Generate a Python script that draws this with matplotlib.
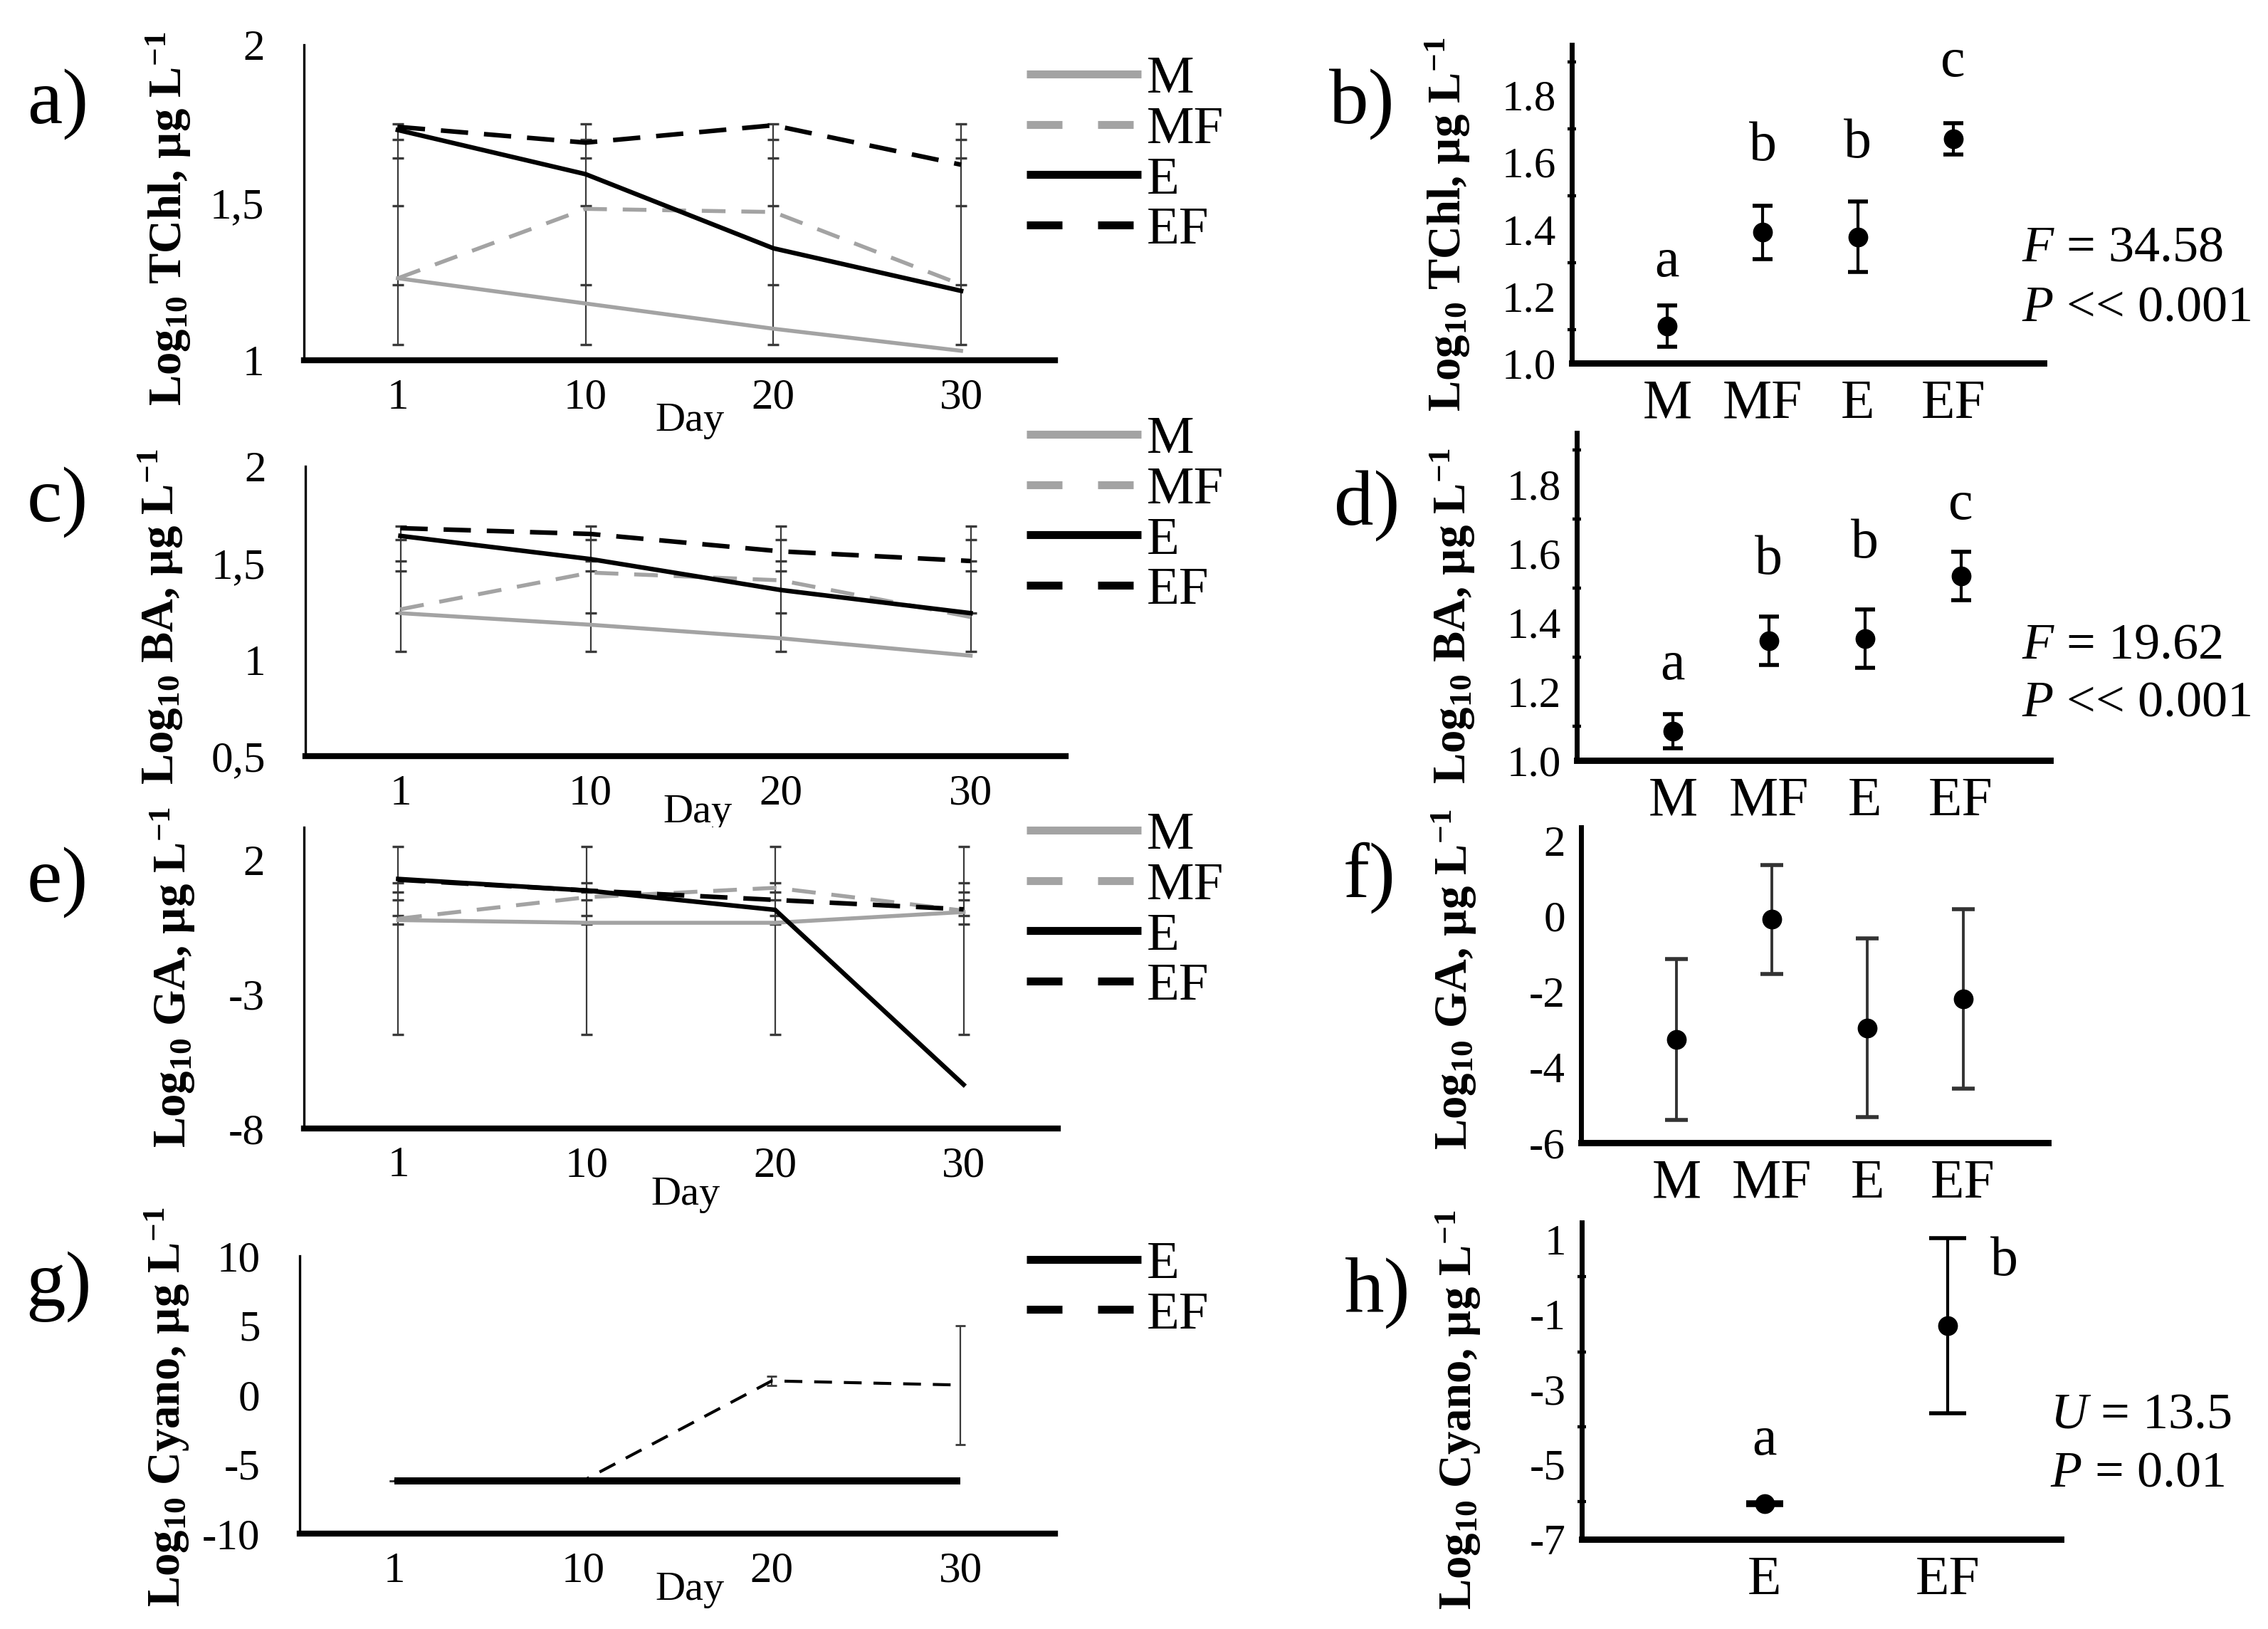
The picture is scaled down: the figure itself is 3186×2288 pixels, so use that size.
import matplotlib
matplotlib.use('Agg')
import matplotlib.pyplot as plt
from matplotlib.lines import Line2D
from matplotlib.ticker import MultipleLocator

plt.rcParams['font.family'] = 'Liberation Serif'
plt.rcParams['mathtext.fontset'] = 'custom'
plt.rcParams['mathtext.rm'] = 'Liberation Serif'
plt.rcParams['mathtext.it'] = 'Liberation Serif:italic'
plt.rcParams['mathtext.bf'] = 'Liberation Serif:bold'

#_data: time series (left panels)_______________________________________________#
days = ['1', '10', '20', '30']
groups = ['M', 'MF', 'E', 'EF']

tchl_M = [1.26, 1.18, 1.10, 1.03]
tchl_MF = [1.26, 1.48, 1.47, 1.24]
tchl_E = [1.73, 1.59, 1.355, 1.22]
tchl_EF = [1.74, 1.69, 1.745, 1.62]
tchl_caps = [1.05, 1.24, 1.49, 1.64, 1.70, 1.75]

ba_M = [1.24, 1.18, 1.11, 1.02]
ba_MF = [1.26, 1.45, 1.41, 1.22]
ba_E = [1.64, 1.52, 1.36, 1.24]
ba_EF = [1.68, 1.65, 1.56, 1.51]
ba_caps = [1.04, 1.24, 1.46, 1.51, 1.62, 1.69]

ga_M = [-0.25, -0.35, -0.35, 0.05]
ga_MF = [-0.2, 0.6, 0.95, 0.1]
ga_E = [1.28, 0.85, 0.13, -6.37]
ga_EF = [1.25, 0.85, 0.5, 0.15]
ga_caps = [-4.5, -0.4, -0.07, 0.51, 0.8, 1.13, 2.48]

cy_E = [-6.2, -6.2, -6.2, -6.2]
cy_EF = [-6.2, -6.2, 1.0, 0.7]
cy_EF_err = [0, 0, 0.35, 4.3]

#_data: group means (right panels)______________________________________________#
tchl_mean = [1.11, 1.39, 1.377, 1.67]
tchl_err = [0.062, 0.08, 0.105, 0.047]
tchl_letters = ['a', 'b', 'b', 'c']
tchl_letter_y = [1.30, 1.646, 1.654, 1.896]

ba_mean = [1.085, 1.347, 1.353, 1.535]
ba_err = [0.05, 0.07, 0.084, 0.07]
ba_letters = ['a', 'b', 'b', 'c']
ba_letter_y = [1.275, 1.58, 1.627, 1.739]

ga_mean = [-3.26, -0.09, -2.96, -2.19]
ga_err = [2.13, 1.45, 2.37, 2.38]

cy_groups = ['E', 'EF']
cy_mean = [-6.05, -1.3]
cy_err = [0.03, 2.33]
cy_letters = ['a', 'b']
cy_letter_x = [0, 1.31]
cy_letter_y = [-4.39, 0.40]

#_figure________________________________________________________________________#
W, H = 3186, 2288
fig = plt.figure(figsize=(W / 200, H / 200), dpi=200)

GRAY = '#a3a3a3'
styles = {
    'M': dict(color=GRAY, lw=2.0),
    'MF': dict(color=GRAY, lw=2.0, dashes=(6, 4)),
    'E': dict(color='black', lw=2.3),
    'EF': dict(color='black', lw=2.3, dashes=(6, 3.5)),
}


def box(l, r, t, b):
    return [l / W, 1 - b / H, (r - l) / W, (b - t) / H]


def fig_text(x, y, s, **kw):
    fig.text(x / W, 1 - y / H, s, **kw)


def ylab(x, y, s):
    fig_text(x, y, s, rotation=90, ha='center', va='center', fontsize=23.3,
             fontweight='bold')


def add_legend(ax, names, yc):
    handles = []
    for n in names:
        st = dict(styles[n])
        st['lw'] = 4
        if 'dashes' in st:
            st['dashes'] = (4.5, 4.5)
        handles.append(Line2D([], [], solid_capstyle='butt',
                              dash_capstyle='butt', **st))
    ax.legend(handles, names, loc='center left',
              bbox_to_anchor=(1442 / W, 1 - yc / H),
              bbox_transform=fig.transFigure, frameon=False, fontsize=27,
              handlelength=2.15, handletextpad=0.1, labelspacing=0.03,
              borderpad=0, borderaxespad=0)


def line_panel(rect, series, ylim, yticks, yticklabels, day_xy):
    ax = fig.add_axes(box(*rect))
    xs = list(range(len(days)))
    for name, vals in series:
        ax.plot(xs, vals, zorder=3, **styles[name])
    ax.set_xlim(-0.5, 3.5)
    ax.set_ylim(*ylim)
    ax.set_xticks(xs)
    ax.set_xticklabels(days)
    ax.set_yticks(yticks)
    ax.set_yticklabels(yticklabels)
    for s in ['top', 'right']:
        ax.spines[s].set_visible(False)
    ax.spines['left'].set_linewidth(1.2)
    ax.spines['bottom'].set_linewidth(3)
    ax.tick_params(axis='both', length=0, labelsize=22)
    ax.tick_params(axis='x', pad=9)
    ax.tick_params(axis='y', pad=20)
    l, r, t, b = rect
    ax.set_xlabel('Day', fontsize=21)
    ax.xaxis.set_label_coords((day_xy[0] - l) / (r - l),
                              -(day_xy[1] - b) / (b - t))
    ax.xaxis.label.set_verticalalignment('center')
    return ax


def draw_caps(ax, caps):
    xs = list(range(len(days)))
    ax.vlines(xs, min(caps), max(caps), color='#3a3a3a', lw=0.8, zorder=2)
    for c in caps:
        ax.plot(xs, [c] * len(xs), ls='none', marker='_', ms=6, mew=1.2,
                color='#3a3a3a', zorder=2)


def group_panel(rect, cats, means, errs, ylim, yticks, fmt, capsize, xlim,
                minor=None, elw=1.5, ecol='black'):
    ax = fig.add_axes(box(*rect))
    xs = list(range(len(cats)))
    ax.errorbar(xs, means, yerr=errs, fmt='o', color='black', ms=9,
                ecolor=ecol, elinewidth=elw, capsize=capsize, capthick=2)
    ax.set_xlim(*xlim)
    ax.set_ylim(*ylim)
    ax.set_xticks(xs)
    ax.set_xticklabels(cats)
    ax.set_yticks(yticks)
    ax.set_yticklabels([fmt % v for v in yticks])
    for s in ['top', 'right']:
        ax.spines[s].set_visible(False)
    ax.spines['left'].set_linewidth(2.5)
    ax.spines['bottom'].set_linewidth(3.2)
    ax.tick_params(axis='x', length=0, labelsize=28, pad=8)
    ax.tick_params(axis='y', length=0, labelsize=22, pad=8)
    if minor:
        ax.yaxis.set_minor_locator(MultipleLocator(minor))
        ax.tick_params(axis='y', which='minor', length=4, width=1.6,
                       direction='inout')
    return ax


#_a) TChl over time_____________________________________________________________#
ax_a = line_panel((427, 1482, 63, 506),
                  [('M', tchl_M), ('MF', tchl_MF), ('E', tchl_E), ('EF', tchl_EF)],
                  (1, 2), [1, 1.5, 2], ['1', '1,5', '2'], (969, 591))
draw_caps(ax_a, tchl_caps)
add_legend(ax_a, groups, 218)

#_c) BA over time_______________________________________________________________#
ax_c = line_panel((429, 1497, 655, 1062),
                  [('M', ba_M), ('MF', ba_MF), ('E', ba_E), ('EF', ba_EF)],
                  (0.5, 2), [0.5, 1, 1.5, 2], ['0,5', '1', '1,5', '2'], (980, 1141))
draw_caps(ax_c, ba_caps)
add_legend(ax_c, groups, 724)

#_e) GA over time_______________________________________________________________#
ax_e = line_panel((427, 1486, 1162, 1585),
                  [('M', ga_M), ('MF', ga_MF), ('E', ga_E), ('EF', ga_EF)],
                  (-8, 3.2), [-8, -3, 2], ['-8', '-3', '2'], (963, 1678))
draw_caps(ax_e, ga_caps)
add_legend(ax_e, groups, 1280)

#_g) Cyano over time____________________________________________________________#
ax_g = line_panel((421, 1482, 1764, 2154), [],
                  (-10, 10), [-10, -5, 0, 5, 10], ['-10', '-5', '0', '5', '10'],
                  (969, 2233))
xs = list(range(len(days)))
ax_g.errorbar(xs, cy_EF, yerr=cy_EF_err, color='black', lw=1.5,
              dashes=(6, 4), ecolor='#3a3a3a', elinewidth=0.8, capsize=2.5,
              zorder=3)
ax_g.plot(xs, cy_E, color='black', lw=3.6, solid_capstyle='butt', zorder=4)
add_legend(ax_g, ['E', 'EF'], 1812)

#_b) d) f) h) group means_______________________________________________________#
ax_b = group_panel((2208, 2871, 63, 510), groups, tchl_mean, tchl_err,
                   (1, 1.95), [1.0, 1.2, 1.4, 1.6, 1.8], '%.1f', 5.2,
                   (-1, 3.95), minor=0.1)
for i, (t, y) in enumerate(zip(tchl_letters, tchl_letter_y)):
    ax_b.text(i, y, t, ha='center', va='center', fontsize=28)

ax_d = group_panel((2215, 2880, 608, 1068), groups, ba_mean, ba_err,
                   (1, 1.95), [1.0, 1.2, 1.4, 1.6, 1.8], '%.1f', 5.2,
                   (-1, 3.93), minor=0.1)
for i, (t, y) in enumerate(zip(ba_letters, ba_letter_y)):
    ax_d.text(i, y, t, ha='center', va='center', fontsize=28)

ax_f = group_panel((2221, 2877, 1162, 1605), groups, ga_mean, ga_err,
                   (-6, 2.35), [-6, -4, -2, 0, 2], '%d', 5.7,
                   (-1, 3.89), elw=1.4, ecol='#333333')

ax_h = group_panel((2222, 2895, 1717, 2162), cy_groups, cy_mean, cy_err,
                   (-7, 1.45), [-7, -5, -3, -1, 1], '%d', 9.5,
                   (-1, 1.62), minor=1)
for x, t, y in zip(cy_letter_x, cy_letters, cy_letter_y):
    ax_h.text(x, y, t, ha='center', va='center', fontsize=28)

#_axis titles, panel letters, statistics________________________________________#
ylab(236, 307, r'Log$_{\mathbf{10}}$ TChl, µg L$^{\mathbf{-1}}$')
ylab(225, 866, r'Log$_{\mathbf{10}}$ BA, µg L$^{\mathbf{-1}}$')
ylab(242, 1373, r'Log$_{\mathbf{10}}$ GA, µg L$^{\mathbf{-1}}$')
ylab(234, 1976, r'Log$_{\mathbf{10}}$ Cyano, µg L$^{\mathbf{-1}}$')
ylab(2033, 315, r'Log$_{\mathbf{10}}$ TChl, µg L$^{\mathbf{-1}}$')
ylab(2040, 865, r'Log$_{\mathbf{10}}$ BA, µg L$^{\mathbf{-1}}$')
ylab(2042, 1376, r'Log$_{\mathbf{10}}$ GA, µg L$^{\mathbf{-1}}$')
ylab(2048, 1980, r'Log$_{\mathbf{10}}$ Cyano, µg L$^{\mathbf{-1}}$')

panel_letters = ['a)', 'b)', 'c)', 'd)', 'e)', 'f)', 'g)', 'h)']
panel_xy = [(81, 147), (1913, 147), (81, 706), (1920, 711),
            (81, 1240), (1924, 1233), (83, 1808), (1935, 1816)]
for t, (x, y) in zip(panel_letters, panel_xy):
    fig_text(x, y, t, ha='center', va='center', fontsize=40)

stats = [(349, r'$F$ = 34.58'), (433, r'$P$ << 0.001'),
         (907, r'$F$ = 19.62'), (988, r'$P$ << 0.001'),
         (1988, r'$U$ = 13.5'), (2070, r'$P$ = 0.01')]
for y, s in stats:
    fig_text(2840 if y < 1500 else 2880, y, s, ha='left', va='center',
             fontsize=26)

fig.savefig('out.png', dpi=200)
